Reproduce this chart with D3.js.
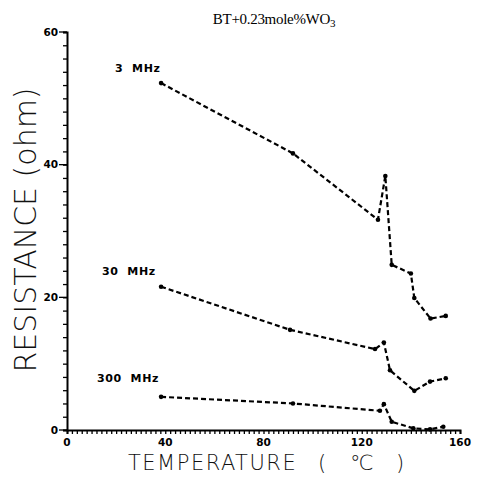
<!DOCTYPE html>
<html>
<head>
<meta charset="utf-8">
<script src="https://cdn.jsdelivr.net/npm/d3@7"></script>
<style>
  body { margin: 0; background: #fff; }
  svg { display: block; }
</style>
</head>
<body>
<div id="chart"></div>
<script>
// Data: temperature (°C) vs resistance (ohm)
const temp3 = [38.3, 92, 126.6, 129.6, 132.2, 140, 141.4, 148, 154.2];
const res3 = [52.3, 41.7, 31.7, 38.3, 24.9, 23.6, 19.9, 16.8, 17.2];

const temp30 = [38.3, 90.8, 125.4, 129, 131.5, 141.4, 147.8, 154.2];
const res30 = [21.6, 15.1, 12.2, 13.2, 9.0, 5.9, 7.3, 7.8];

const temp300 = [38.3, 92, 127.4, 129, 132.2, 141, 147.8, 153.2];
const res300 = [5.0, 4.0, 2.9, 3.9, 1.25, 0.25, 0.1, 0.5];

const seriesNames = ["3 MHz", "30 MHz", "300 MHz"];
const xTicks = [0, 40, 80, 120, 160];
const yTicks = [0, 20, 40, 60];

const series = [
    { name: seriesNames[0], t: temp3, r: res3 },
    { name: seriesNames[1], t: temp30, r: res30 },
    { name: seriesNames[2], t: temp300, r: res300 }
];

const width = 479;
const height = 477;
const marginLeft = 67;
const marginRight = 19;
const marginTop = 32;
const marginBottom = 47;

const x = d3.scaleLinear()
    .domain([0, 160])
    .range([marginLeft, width - marginRight]);

const y = d3.scaleLinear()
    .domain([0, 60])
    .range([height - marginBottom, marginTop]);

const svg = d3.select("#chart")
    .append("svg")
    .attr("width", width)
    .attr("height", height)
    .attr("viewBox", [0, 0, width, height]);

// Title
const title = svg.append("text")
    .attr("x", 274)
    .attr("y", 24)
    .attr("text-anchor", "middle")
    .style("font-family", "'Liberation Serif', serif")
    .style("font-size", "15px")
    .style("letter-spacing", "-0.3px");
title.append("tspan").text("BT+0.23mole%WO");
title.append("tspan").attr("dy", 3).style("font-size", "11px").text("3");

// Minor ticks every 2 units
const minorX = d3.range(0, 161, 2);
const minorY = d3.range(0, 61, 2);

const gx = svg.append("g")
    .attr("transform", `translate(0,${y(0)})`)
    .call(d3.axisBottom(x).tickValues(minorX).tickSize(4).tickFormat(""));
gx.select(".domain").attr("stroke-width", 2);
gx.selectAll(".tick line").attr("stroke-width", 1.3);

gx.selectAll(".major")
    .data(xTicks)
    .join("text")
    .attr("x", (d) => x(d))
    .attr("y", 16)
    .attr("text-anchor", "middle")
    .attr("fill", "#000")
    .style("font-family", "'DejaVu Sans', sans-serif")
    .style("font-size", "10.5px")
    .style("font-weight", "bold")
    .text((d) => d);

const gy = svg.append("g")
    .attr("transform", `translate(${marginLeft},0)`)
    .call(d3.axisLeft(y).tickValues(minorY).tickSize(4).tickFormat(""));
gy.select(".domain").attr("stroke-width", 2);
gy.selectAll(".tick line").attr("stroke-width", 1.3);

gy.selectAll(".major")
    .data(yTicks)
    .join("line")
    .attr("x1", -8)
    .attr("x2", 0)
    .attr("y1", (d) => y(d))
    .attr("y2", (d) => y(d))
    .attr("stroke", "#000")
    .attr("stroke-width", 1.3);

gy.selectAll(".majorlab")
    .data(yTicks)
    .join("text")
    .attr("x", -9)
    .attr("y", (d) => y(d))
    .attr("dy", "0.35em")
    .attr("text-anchor", "end")
    .attr("fill", "#000")
    .style("font-family", "'DejaVu Sans', sans-serif")
    .style("font-size", "10.5px")
    .style("font-weight", "bold")
    .text((d) => d);

// Axis titles
svg.append("text")
    .attr("transform", `translate(36,230) rotate(-90)`)
    .attr("text-anchor", "middle")
    .style("font-family", "'DejaVu Sans', sans-serif")
    .style("font-size", "30px")
    .style("font-weight", "200")
    .attr("fill", "#111")
    .attr("xml:space", "preserve")
    .style("white-space", "pre")
    .text("RESISTANCE (ohm)");

const xTitle = svg.append("text")
    .attr("y", 470)
    .style("font-family", "'DejaVu Sans', sans-serif")
    .style("font-size", "21px")
    .style("font-weight", "200")
    .style("letter-spacing", "1.5px")
    .attr("fill", "#111");
xTitle.append("tspan").attr("x", 128).text("TEMPERATURE");
xTitle.append("tspan").attr("x", 318).text("(");
xTitle.append("tspan").attr("x", 350).text("℃");
xTitle.append("tspan").attr("x", 396).text(")");

// Curves
const line = d3.line()
    .x((d) => x(d[0]))
    .y((d) => y(d[1]));

series.forEach((s) => {
    const pts = s.t.map((t, i) => [t, s.r[i]]);
    svg.append("path")
        .datum(pts)
        .attr("fill", "none")
        .attr("stroke", "#000")
        .attr("stroke-width", 2.2)
        .attr("stroke-dasharray", "5,3")
        .attr("stroke-linejoin", "round")
        .attr("d", line);
    svg.append("g")
        .selectAll("circle")
        .data(pts)
        .join("circle")
        .attr("cx", (d) => x(d[0]))
        .attr("cy", (d) => y(d[1]))
        .attr("r", 2.3)
        .attr("fill", "#000");
});

// Series labels
const labelPos = [
    { x: 115, y: 72 },
    { x: 102, y: 275 },
    { x: 97, y: 382 }
];
svg.append("g")
    .selectAll("text")
    .data(seriesNames)
    .join("text")
    .attr("x", (d, i) => labelPos[i].x)
    .attr("y", (d, i) => labelPos[i].y)
    .style("font-family", "'DejaVu Sans', sans-serif")
    .style("font-size", "11px")
    .style("font-weight", "bold")
    .style("letter-spacing", "0.6px")
    .attr("xml:space", "preserve")
    .style("white-space", "pre")
    .text((d) => d.replace(" ", "  "));
</script>
</body>
</html>
